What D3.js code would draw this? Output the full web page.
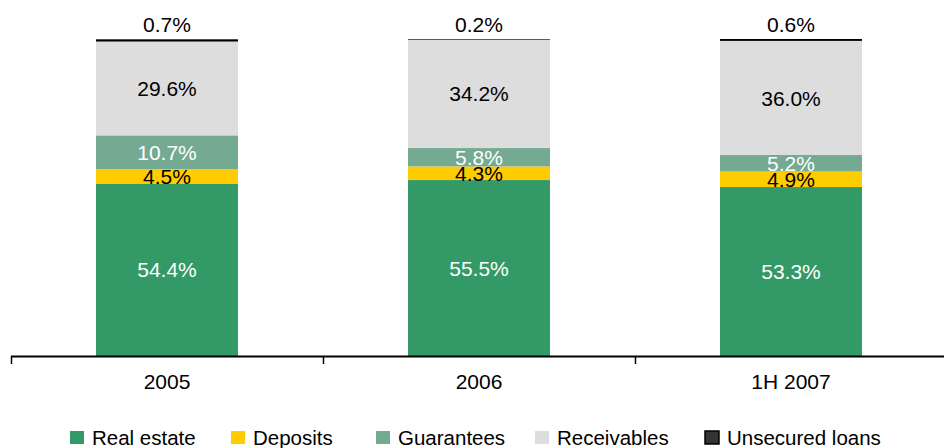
<!DOCTYPE html>
<html>
<head>
<meta charset="utf-8">
<script src="https://cdn.jsdelivr.net/npm/d3@7"></script>
<style>
  html, body { margin: 0; padding: 0; background: #fff; }
  svg { display: block; font-family: "Liberation Sans", Arial, sans-serif; }
</style>
</head>
<body>
<svg id="chart" width="944" height="448"></svg>
<script>
// Periods on the x axis
const periods = ["2005", "2006", "1H 2007"];

// Share of collateral by type (%), stacked bottom to top
const seriesNames = ["Real estate", "Deposits", "Guarantees", "Receivables", "Unsecured loans"];
const realEstate   = [54.4, 55.5, 53.3];
const deposits     = [4.5, 4.3, 4.9];
const guarantees   = [10.7, 5.8, 5.2];
const receivables  = [29.6, 34.2, 36.0];
const unsecured    = [0.7, 0.2, 0.6];

const seriesColors = ["#339966", "#FFCC00", "#74AA92", "#DDDDDD", "#000000"];
const labelColors  = ["#ffffff", "#000000", "#ffffff", "#000000", "#000000"];

const seriesValues = [realEstate, deposits, guarantees, receivables, unsecured];

const rows = periods.map((p, i) => {
  const r = { period: p };
  seriesNames.forEach((s, k) => { r[s] = seriesValues[k][i]; });
  return r;
});

const svg = d3.select("#chart");

const x = d3.scaleBand()
  .domain(periods)
  .range([11, 947])
  .paddingInner(0.545)
  .paddingOuter(0.2725);

const y = d3.scaleLinear()
  .domain([0, 100])
  .range([356, 39]);

const stack = d3.stack().keys(seriesNames);
const layers = stack(rows);

// Bars
const groups = svg.append("g")
  .selectAll("g")
  .data(layers)
  .join("g")
  .attr("fill", (d, i) => seriesColors[i]);

groups.selectAll("rect")
  .data(d => d)
  .join("rect")
  .attr("x", d => x(d.data.period))
  .attr("width", x.bandwidth())
  .attr("y", d => y(d[1]))
  .attr("height", d => y(d[0]) - y(d[1]));

// Value labels: inside segments, the top series above the bar
const fmt = v => v.toFixed(1) + "%";
layers.forEach((layer, k) => {
  const last = k === layers.length - 1;
  svg.append("g")
    .selectAll("text")
    .data(layer)
    .join("text")
    .attr("x", d => x(d.data.period) + x.bandwidth() / 2)
    .attr("y", d => last ? y(100) - 15 : (y(d[0]) + y(d[1])) / 2)
    .attr("dy", "0.36em")
    .attr("text-anchor", "middle")
    .attr("font-size", 21)
    .attr("fill", labelColors[k])
    .text(d => fmt(d.data[layer.key]));
});

// X axis
const axis = svg.append("g")
  .attr("transform", "translate(0,356)")
  .call(d3.axisBottom(x).tickSize(0).tickPadding(18));
axis.select(".domain").remove();
axis.selectAll("text")
  .attr("font-size", 21)
  .attr("font-family", "Liberation Sans, Arial, sans-serif")
  .attr("fill", "#000");

svg.append("line")
  .attr("x1", 11).attr("x2", 944)
  .attr("y1", 356.5).attr("y2", 356.5)
  .attr("stroke", "#000").attr("stroke-width", 2);

// Tick marks on band boundaries
const boundaries = periods.map(p => x(p) - x.step() * x.paddingInner() / 2);
svg.append("g")
  .selectAll("line")
  .data(boundaries)
  .join("line")
  .attr("x1", d => Math.round(d) + 0.5).attr("x2", d => Math.round(d) + 0.5)
  .attr("y1", 356).attr("y2", 364)
  .attr("stroke", "#000").attr("stroke-width", 1.5);

// Legend
const legendX = [70, 231, 376, 535, 705];
const legend = svg.append("g")
  .selectAll("g")
  .data(seriesNames)
  .join("g")
  .attr("transform", (d, i) => `translate(${legendX[i]},431)`);

legend.append("rect")
  .attr("width", 14).attr("height", 13)
  .attr("fill", (d, i) => i === 4 ? "#333333" : seriesColors[i])
  .attr("stroke", (d, i) => i === 4 ? "#000" : "none")
  .attr("stroke-width", 1.5);

legend.append("text")
  .attr("x", 22)
  .attr("y", 14)
  .attr("font-size", 20.5)
  .attr("fill", "#000")
  .text(d => d);
</script>
</body>
</html>
